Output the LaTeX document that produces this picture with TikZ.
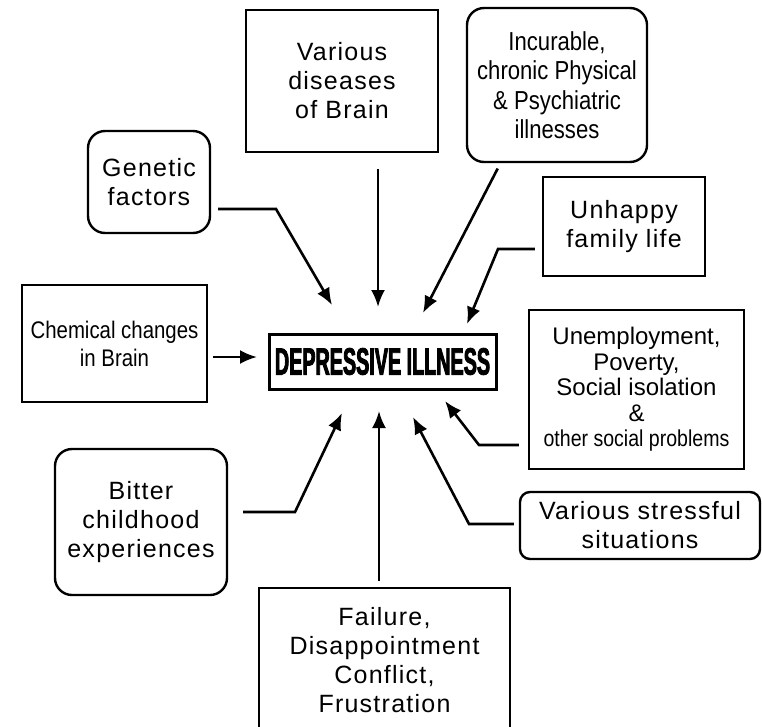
\documentclass[tikz,border=0pt]{standalone}
\usepackage{fontspec}
\setmainfont{Liberation Sans}
\newfontfamily\widefont{Liberation Sans}[LetterSpace=5]
\newfontfamily\narrowfont{Liberation Sans}[FakeStretch=0.85]
\newfontfamily\headfont{Liberation Sans}[FakeStretch=0.52,BoldFeatures={FakeBold=2.2}]
\usetikzlibrary{arrows.meta,calc}

\begin{document}
\begin{tikzpicture}[
		x=1pt, y=-1pt,
		block/.style={draw, line width=2.4pt, inner sep=0pt, align=center, font=\widefont\fontsize{25}{29}\selectfont},
		rblock/.style={block, rounded corners=17pt},
		arrow/.style={line width=2.6pt, -{Latex[length=17pt,width=14pt]}},
	]
		\useasboundingbox (0,0) rectangle (762,726);
		\clip (0,0) rectangle (762,726);

		\node[draw, line width=3pt, inner sep=0pt, minimum width=227pt, minimum height=55pt, font=\headfont\bfseries\fontsize{38}{40}\selectfont] (dep) at (382.5,361.5) {DEPRESSIVE ILLNESS};
		\node[block, minimum width=192pt, minimum height=142pt] (dis) at (342,81) {Various\\diseases\\of Brain};
		\node[rblock, minimum width=180pt, minimum height=154pt, font=\narrowfont\fontsize{26}{29.5}\selectfont] (inc) at (557,85) {Incurable,\\chronic Physical\\\& Psychiatric\\illnesses};
		\node[rblock, minimum width=122pt, minimum height=102pt] (gen) at (149,182) {Genetic\\factors};
		\node[block, minimum width=162pt, minimum height=99pt] (unh) at (624,226.5) {Unhappy\\family life};
		\node[block, minimum width=185pt, minimum height=117pt, font=\narrowfont\fontsize{24}{28}\selectfont] (chem) at (114.5,343.5) {Chemical changes\\in Brain};
		\node[block, minimum width=215pt, minimum height=159pt, font=\normalfont\fontsize{24}{25.5}\selectfont] (unem) at (636.5,389.5) {Unemployment,\\Poverty,\\Social isolation\\\&\\{\narrowfont\fontsize{23}{25.5}\selectfont other social problems}};
		\node[rblock, minimum width=172pt, minimum height=146pt] (bit) at (141,522) {Bitter\\childhood\\experiences};
		\node[block, rounded corners=10pt, minimum width=240pt, minimum height=67pt] (str) at (640,525.5) {Various stressful\\situations};
		\node[block, minimum width=251pt, minimum height=144pt] (fail) at (384.5,660) {Failure,\\Disappointment\\Conflict,\\Frustration};

		\coordinate (genbend) at (276,209);
		\coordinate (gentip) at (332,305);
		\coordinate (distip) at (378,307);
		\coordinate (inctip) at (423,313);
		\coordinate (unhbend) at (498,249);
		\coordinate (unhtip) at (467,324);
		\coordinate (chemtip) at (257,357);
		\coordinate (unembend) at (479,445);
		\coordinate (unemtip) at (445,401);
		\coordinate (strbend) at (469,524);
		\coordinate (strtip) at (413,417);
		\coordinate (failtip) at (379,411);
		\coordinate (bitbend) at (295,512);
		\coordinate (bittip) at (342,413);

		\draw[arrow, shorten <=7pt] (gen.east |- genbend) -- (genbend) -- (gentip);
		\draw[arrow, shorten <=16pt] (distip |- dis.south) -- (distip);
		\draw[arrow, shorten <=6pt] ($(inc.south west)!0.19!(inc.south east)$) -- (inctip);
		\draw[arrow, shorten <=7pt] (unh.west |- unhbend) -- (unhbend) -- (unhtip);
		\draw[arrow, shorten <=5pt] (chem.east |- chemtip) -- (chemtip);
		\draw[arrow, shorten <=9pt] (unem.west |- unembend) -- (unembend) -- (unemtip);
		\draw[arrow, shorten <=5pt] (str.west |- strbend) -- (strbend) -- (strtip);
		\draw[arrow, shorten <=6pt] (failtip |- fail.north) -- (failtip);
		\draw[arrow, shorten <=15pt] (bit.east |- bitbend) -- (bitbend) -- (bittip);
	\end{tikzpicture}
\end{document}
